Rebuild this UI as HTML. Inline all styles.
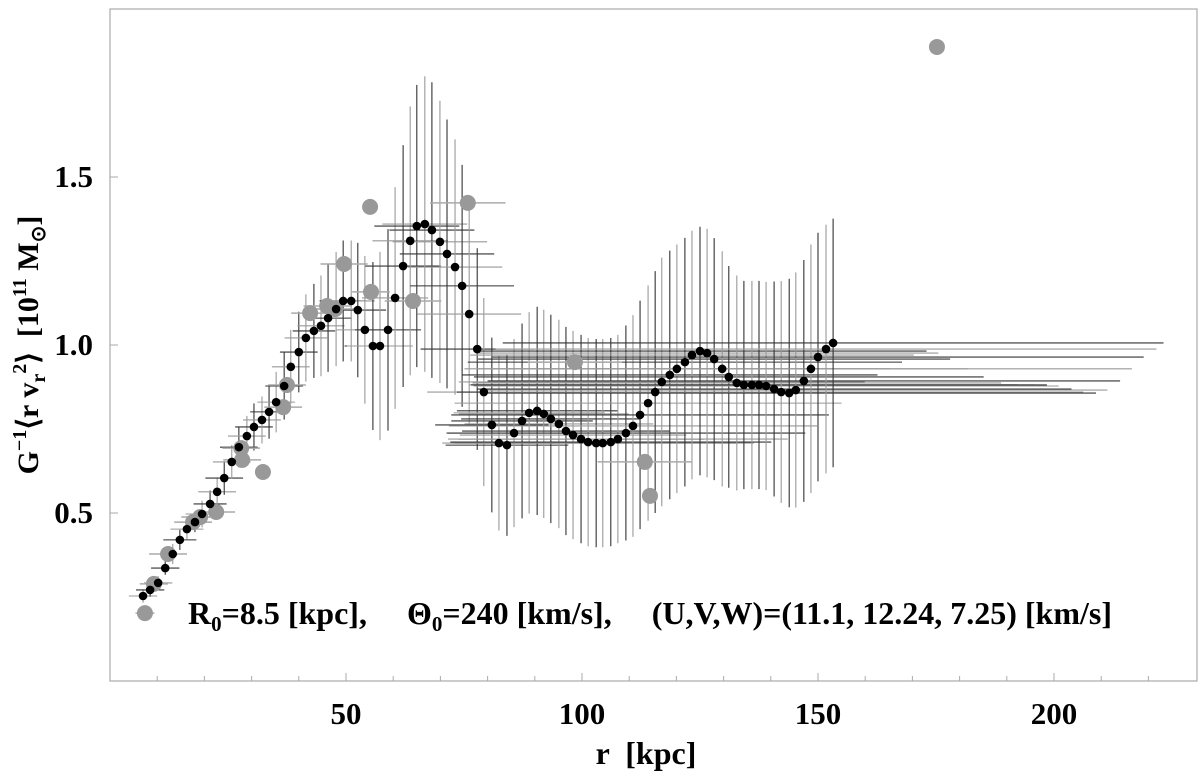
<!DOCTYPE html>
<html><head><meta charset="utf-8"><style>
body{margin:0;background:#fff;}
svg text{font-family:"Liberation Serif",serif;font-weight:bold;fill:#000;white-space:pre;}
</style></head><body>
<svg id="chart" width="1200" height="777" viewBox="0 0 1200 777" xmlns="http://www.w3.org/2000/svg">
<rect x="110" y="9" width="1087" height="672" fill="none" stroke="#aaa" stroke-width="1.2"/>
<g id="ticks"></g>
<g id="errs"></g>
<g id="dots"></g>
<text x="646" y="764" font-size="32" text-anchor="middle" xml:space="preserve">r  [kpc]</text>
<text transform="translate(38,345) rotate(-90)" font-size="30" text-anchor="middle" xml:space="preserve">G<tspan font-size="20" dy="-12">−1</tspan><tspan dy="12">⟨r v</tspan><tspan font-size="20" dy="7">r</tspan><tspan font-size="20" dy="-19">2</tspan><tspan dy="12">⟩  [10</tspan><tspan font-size="20" dy="-12">11</tspan><tspan dy="12"> M</tspan><tspan font-size="20" dy="7">⊙</tspan><tspan dy="-7">]</tspan></text>
<text x="188" y="624" font-size="32" xml:space="preserve">R<tspan font-size="21" dy="7">0</tspan><tspan dy="-7">=8.5 [kpc],     Θ</tspan><tspan font-size="21" dy="7">0</tspan><tspan dy="-7">=240 [km/s],     (U,V,W)=(11.1, 12.24, 7.25) [km/s]</tspan></text>
</svg>
<script>
const blackR=[7.0,8.5,10.2,11.7,13.3,14.8,16.3,18.0,19.5,21.2,22.7,24.2,25.8,27.3,29.0,30.5,32.2,33.7,35.2,36.9,38.3,40.0,41.5,43.2,44.7,46.2,47.9,49.4,51.1,52.5,54.0,55.7,57.2,58.9,60.4,62.1,63.6,65.0,66.7,68.2,69.9,71.4,73.1,74.6,76.1,77.8,79.2,80.9,82.4,84.1,85.6,87.3,88.8,90.5,91.9,93.4,95.1,96.6,98.1,99.8,101.3,103.0,104.4,106.1,107.6,109.3,110.8,112.3,114.0,115.5,116.9,118.6,120.1,121.8,123.3,125.0,126.5,128.0,129.7,131.1,132.8,134.3,136.0,137.5,139.0,140.7,142.2,143.9,145.3,147.0,148.5,150.0,151.7,153.2];
const blackV=[0.253,0.271,0.292,0.336,0.378,0.420,0.452,0.473,0.497,0.527,0.563,0.604,0.652,0.696,0.729,0.756,0.777,0.801,0.830,0.878,0.935,0.979,1.021,1.042,1.057,1.080,1.107,1.131,1.131,1.104,1.045,0.997,0.997,1.045,1.140,1.235,1.310,1.354,1.360,1.342,1.307,1.271,1.232,1.176,1.092,0.988,0.860,0.762,0.708,0.702,0.738,0.774,0.798,0.804,0.795,0.780,0.765,0.744,0.732,0.720,0.711,0.708,0.708,0.711,0.720,0.738,0.759,0.792,0.827,0.860,0.890,0.911,0.929,0.949,0.970,0.982,0.976,0.958,0.929,0.905,0.887,0.881,0.881,0.881,0.878,0.869,0.860,0.857,0.866,0.893,0.929,0.964,0.988,1.006];
const blackErrV=[0.02,0.02,0.02,0.02,0.03,0.03,0.03,0.03,0.04,0.04,0.04,0.05,0.05,0.06,0.06,0.07,0.07,0.08,0.09,0.10,0.11,0.12,0.13,0.14,0.15,0.16,0.17,0.18,0.18,0.20,0.22,0.25,0.28,0.30,0.33,0.36,0.40,0.42,0.44,0.44,0.42,0.40,0.38,0.36,0.33,0.30,0.28,0.26,0.26,0.27,0.28,0.29,0.30,0.31,0.31,0.31,0.31,0.31,0.31,0.31,0.31,0.31,0.31,0.31,0.31,0.32,0.33,0.34,0.35,0.36,0.37,0.37,0.37,0.37,0.37,0.37,0.37,0.36,0.35,0.33,0.32,0.31,0.31,0.31,0.31,0.32,0.33,0.34,0.35,0.36,0.37,0.37,0.37,0.37];
const blackErrR=[3,3,3,3,3,3.5,3.5,3.5,3.5,3.5,4,4,4,4,4,4,4,4,4,4,4,4,4.5,4.5,5,5,5,5,5,6,6,6,7,7,7,8,8,9,9,9,10,10,10,11,11,12,12,12,12,13,14,15,16,17,18,19,20,22,24,26,28,30,32,34,36,38,39,40,41,42,43,44,45,46,47,48,49,50,52,54,56,58,60,61,62,63,64,65,66,67,68,69,70,70];
const grayR=[7.4,9.3,12.3,17.6,19.1,22.5,27.8,28.0,32.4,37.5,36.7,42.4,46.0,47.7,49.6,55.1,55.3,64.2,75.8,98.5,113.3,114.4,175.2];
const grayV=[0.202,0.289,0.378,0.473,0.488,0.503,0.693,0.658,0.622,0.881,0.815,1.095,1.116,1.107,1.241,1.411,1.158,1.131,1.423,0.949,0.652,0.551,1.887];
const grayErrR=[2,3,4,4,4,4,4,4,0,4,4,4,5,5,5,0,4,6,8,10,10,0,0];
const xTicks=[50,100,150,200];
const yTicks=[0.5,1.0,1.5];
const xMinor=[10,20,30,40,50,60,70,80,90,100,110,120,130,140,150,160,170,180,190,200,210,220];

const NS='http://www.w3.org/2000/svg';
const X=r=>110+r*4.72;
const Y=v=>681-v*336;
function mk(tag,attrs,parent){const e=document.createElementNS(NS,tag);for(const k in attrs)e.setAttribute(k,attrs[k]);parent.appendChild(e);return e;}
const tg=document.getElementById('ticks');
xMinor.forEach(t=>{const l=mk('line',{x1:X(t),x2:X(t),y1:681,y2:676,stroke:'#aaa'},tg);

});
xTicks.forEach(t=>{const l=mk('line',{x1:X(t),x2:X(t),y1:681,y2:673,stroke:'#aaa'},tg);


const s=mk('text',{x:X(t),y:724,'font-size':31,'text-anchor':'middle'},tg);s.textContent=String(t);

});
yTicks.forEach(t=>{const l=mk('line',{x1:110,x2:118,y1:Y(t),y2:Y(t),stroke:'#aaa'},tg);


const s=mk('text',{x:93,y:Y(t)+10,'font-size':31,'text-anchor':'end'},tg);s.textContent=t.toFixed(1);

});
const eg=document.getElementById('errs'),dg=document.getElementById('dots');
blackR.forEach((r,i)=>{const v=blackV[i];const col=i%2?'#333':'#999';
const a=mk('line',{x1:X(r),x2:X(r),y1:Y(v+blackErrV[i]),y2:Y(v-blackErrV[i]),stroke:col,'stroke-width':1.1},eg);


const b=mk('line',{x1:X(Math.max(0,r-blackErrR[i])),x2:X(r+blackErrR[i]),y1:Y(v),y2:Y(v),stroke:col,'stroke-width':1.1},eg);

});
grayR.forEach((r,i)=>{if(grayErrR[i]>0){const b=mk('line',{x1:X(Math.max(0,r-grayErrR[i])),x2:X(r+grayErrR[i]),y1:Y(grayV[i]),y2:Y(grayV[i]),stroke:'#aaa','stroke-width':1.5},eg);

}
const c=mk('circle',{cx:X(r),cy:Y(grayV[i]),r:8,fill:'#999'},dg);

});
blackR.forEach((r,i)=>{const c=mk('circle',{cx:X(r),cy:Y(blackV[i]),r:4.3,fill:'#000'},dg);

});
</script>
</body></html>
